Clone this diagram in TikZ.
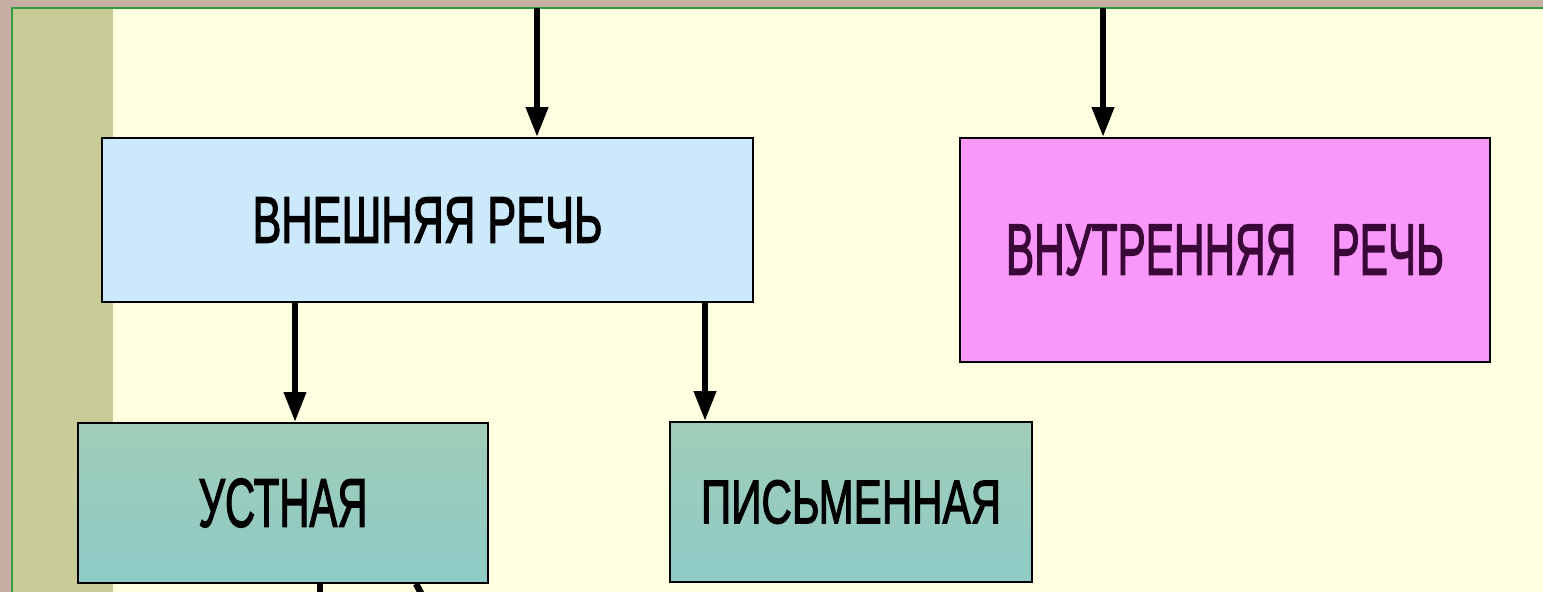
\documentclass[tikz,border=0pt]{standalone}
\usepackage{fontspec}
\usepackage{graphicx}
\newfontfamily\arl[FakeBold=2.3]{Liberation Sans}
\usetikzlibrary{arrows.meta}
\definecolor{outer}{HTML}{C8AFA5}
\definecolor{frame}{HTML}{2E9E3E}
\definecolor{olive}{HTML}{C9CB97}
\definecolor{cream}{HTML}{FFFFE1}
\definecolor{skyb}{HTML}{CBE9FB}
\definecolor{pinkb}{HTML}{FA98FA}
\definecolor{tealtop}{HTML}{A0CDB8}
\definecolor{tealbot}{HTML}{8ECAC6}
\definecolor{plum}{HTML}{3A0838}
\newcommand{\lbl}[3]{\resizebox{#1pt}{#2pt}{\arl #3}}
\tikzstyle{bx}=[draw=black,line width=1.6pt,inner sep=0pt]
\tikzstyle{arr}=[line width=6.5pt,-{Triangle[length=30pt,width=21pt]}]
\tikzstyle{ln}=[line width=6.5pt]

\begin{document}
\begin{tikzpicture}[x=1pt,y=-1pt]
\useasboundingbox (0,0) rectangle (1543,592);
\fill[cream] (-2,-2) rectangle (1560,600);
\fill[outer] (-2,-2) rectangle (12,600);
\fill[outer] (-2,-2) rectangle (1560,8);
\fill[olive] (12,8) rectangle (113,600);
\draw[frame,line width=2pt] (12,600) -- (12,8) -- (1560,8);
\node[bx,fill=skyb,minimum width=651pt,minimum height=164pt] (vnesh) at (427.5,220) {\lbl{350}{45}{ВНЕШНЯЯ РЕЧЬ}};
\node[bx,fill=pinkb,minimum width=530pt,minimum height=224pt] (vnutr) at (1225,250) {\color{plum}\lbl{438}{50}{ВНУТРЕННЯЯ\ \ \ РЕЧЬ}};
\node[bx,top color=tealtop,bottom color=tealbot,minimum width=410pt,minimum height=160pt] (ustn) at (283,503) {\lbl{169}{48}{УСТНАЯ}};
\node[bx,top color=tealtop,bottom color=tealbot,minimum width=362pt,minimum height=160pt] (pism) at (851,502) {\lbl{300}{43}{ПИСЬМЕННАЯ}};
\coordinate (top1) at (537,8);
\coordinate (top2) at (1103,8);
\coordinate (low1) at (320,610);
\coordinate (low2) at (430,610);
\draw[arr] (top1) -- ([xshift=109.5pt]vnesh.north);
\draw[arr] (top2) -- ([xshift=-122pt]vnutr.north);
\draw[arr] ([xshift=-132.5pt]vnesh.south) -- ([xshift=12pt]ustn.north);
\draw[arr] ([xshift=277.5pt]vnesh.south) -- ([xshift=-146pt]pism.north);
\draw[ln] ([xshift=37pt]ustn.south) -- (low1);
\draw[ln] ([xshift=133pt]ustn.south) -- (low2);
\end{tikzpicture}
\end{document}
